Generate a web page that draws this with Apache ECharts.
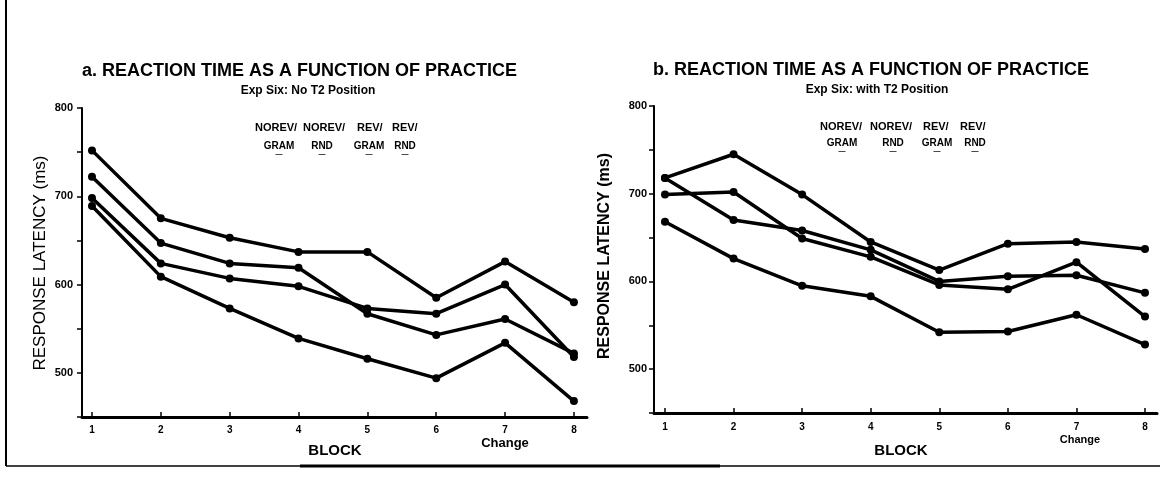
<!DOCTYPE html>
<html>
<head>
<meta charset="utf-8">
<script src="https://cdn.jsdelivr.net/npm/echarts@6/dist/echarts.min.js"></script>
<style>
html,body{margin:0;padding:0;background:#fff;}
#chart{width:1165px;height:479px;}
</style>
</head>
<body>
<div id="chart"></div>
<script>
// ---- data ----
const blocks = [1, 2, 3, 4, 5, 6, 7, 8];
const yTickLabels = [500, 600, 700, 800];
const leftA = [752, 675, 653, 637, 637, 585, 626, 580];
const leftB = [722, 647, 624, 619, 567, 543, 561, 522];
const leftC = [698, 624, 607, 598, 573, 567, 600, 518];
const leftD = [689, 609, 573, 539, 516, 494, 534, 468];
const rightA = [718, 745, 699, 645, 613, 643, 645, 637];
const rightB = [718, 670, 658, 636, 600, 606, 607, 587];
const rightC = [699, 702, 649, 628, 596, 591, 622, 560];
const rightD = [668, 626, 595, 583, 542, 543, 562, 528];
const legendTop = ['NOREV/', 'NOREV/', 'REV/', 'REV/'];
const legendBottom = ['GRAM', 'RND', 'GRAM', 'RND'];
const titleA = 'a. REACTION TIME AS A FUNCTION OF PRACTICE';
const titleB = 'b. REACTION TIME AS A FUNCTION OF PRACTICE';
const subA = 'Exp Six: No T2 Position';
const subB = 'Exp Six: with T2 Position';
const yName = 'RESPONSE LATENCY (ms)';
const xName = 'BLOCK';
const changeLabel = 'Change';

const FONT = '"Liberation Sans", Arial, sans-serif';
const chart = echarts.init(document.getElementById('chart'), null, {renderer: 'canvas'});

function toPts(arr) { return blocks.map((b, i) => [b, arr[i]]); }

function xAxisCfg(gridIndex, min, max, margin) {
  return {
    type: 'value', gridIndex, min, max,
    axisLine: {show: true, lineStyle: {color: '#000', width: 3}},
    axisTick: {show: true, inside: true, length: 5, customValues: blocks, lineStyle: {color: '#000', width: 1.5}},
    axisLabel: {customValues: blocks, margin, color: '#000', fontSize: 10, fontWeight: 'bold', fontFamily: FONT},
    splitLine: {show: false}
  };
}
function yAxisCfg(gridIndex, margin, fs) {
  return {
    type: 'value', gridIndex, min: 450, max: 800, interval: 50,
    axisLine: {show: true, lineStyle: {color: '#000', width: 2}},
    axisTick: {show: true, length: 5, lineStyle: {color: '#000', width: 1.5}},
    axisLabel: {customValues: yTickLabels, margin, color: '#000', fontSize: fs, fontWeight: 'bold', fontFamily: FONT},
    splitLine: {show: false}
  };
}
function lineSeries(idx, arr, lw, sz) {
  return {
    type: 'line', xAxisIndex: idx, yAxisIndex: idx, data: toPts(arr),
    symbol: 'circle', symbolSize: sz, silent: true, animation: false,
    lineStyle: {color: '#000', width: lw}, itemStyle: {color: '#000'}
  };
}
function txt(text, x, y, size, weight, align, rot) {
  return {
    type: 'text', x, y, rotation: rot || 0, silent: true,
    style: {text, fill: '#000', font: (weight || 'normal') + ' ' + size + 'px ' + FONT,
      textAlign: align || 'center', textVerticalAlign: 'middle'}
  };
}
function legend(x0, positionsTop, positionsBottom, y1, y2) {
  const out = [];
  legendTop.forEach((t, i) => out.push(txt(t, x0 + positionsTop[i], y1, 11, 'bold', 'left')));
  legendBottom.forEach((t, i) => {
    out.push(txt(t, x0 + positionsBottom[i], y2, 10, 'bold', 'center'));
    out.push(txt('—', x0 + positionsBottom[i], y2 + 8, 7, 'bold', 'center'));
  });
  return out;
}

const graphics = [
  txt(titleA, 82, 71, 18, 'bold', 'left'),
  txt(subA, 308, 91, 12, 'bold', 'center'),
  txt(titleB, 653, 70, 18, 'bold', 'left'),
  txt(subB, 877, 90, 12, 'bold', 'center'),
  txt(yName, 40, 263, 17, 'normal', 'center', Math.PI / 2),
  txt(yName, 605, 256, 16, 'bold', 'center', Math.PI / 2),
  txt(xName, 335, 451, 15, 'bold', 'center'),
  txt(xName, 901, 451, 15, 'bold', 'center'),
  txt(changeLabel, 505, 443, 13, 'bold', 'center'),
  txt(changeLabel, 1080, 440, 11, 'bold', 'center'),
  {type: 'line', silent: true, shape: {x1: 6, y1: 0, x2: 6, y2: 466}, style: {stroke: '#000', lineWidth: 2}},
  {type: 'line', silent: true, shape: {x1: 6, y1: 466, x2: 1160, y2: 466}, style: {stroke: '#000', lineWidth: 1.5}},
  {type: 'line', silent: true, shape: {x1: 300, y1: 466, x2: 720, y2: 466}, style: {stroke: '#000', lineWidth: 3}}
].concat(
  legend(255, [0, 48, 102, 137], [24, 67, 114, 150], 128, 146),
  legend(820, [0, 50, 103, 140], [22, 73, 117, 155], 127, 143)
);

chart.setOption({
  backgroundColor: '#fff',
  animation: false,
  grid: [
    {left: 82, top: 108, width: 505, height: 309},
    {left: 654, top: 106, width: 503, height: 307}
  ],
  xAxis: [xAxisCfg(0, 0.855, 8.19, 8), xAxisCfg(1, 0.84, 8.175, 9)],
  yAxis: [yAxisCfg(0, 9, 11), yAxisCfg(1, 7, 11)],
  series: [
    lineSeries(0, leftA, 3.5, 8), lineSeries(0, leftB, 3.5, 8),
    lineSeries(0, leftC, 3.5, 8), lineSeries(0, leftD, 3.5, 8),
    lineSeries(1, rightA, 3.5, 8), lineSeries(1, rightB, 3.5, 8),
    lineSeries(1, rightC, 3.5, 8), lineSeries(1, rightD, 3.5, 8)
  ],
  graphic: graphics
});
</script>
</body>
</html>
